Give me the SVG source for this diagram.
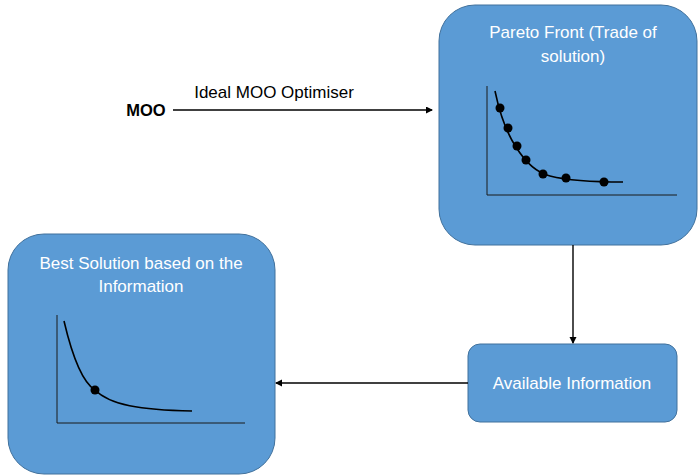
<svg xmlns="http://www.w3.org/2000/svg" width="698" height="476" viewBox="0 0 698 476">
<style>
.box{fill:#5B9BD5;stroke:#41719C;stroke-width:1}
.t{font-family:"Liberation Sans",Arial,sans-serif;font-size:17px;fill:#FFFFFF;text-anchor:middle}
.ax{stroke:#1a1a1a;stroke-width:1;fill:none}
.cv{stroke:#000;stroke-width:1.6;fill:none}
.c{stroke:#000;stroke-width:1.4;fill:none}
</style>
<defs>
<marker id="ah" markerWidth="8" markerHeight="8" refX="6" refY="3.5" orient="auto" markerUnits="userSpaceOnUse">
<path d="M0,0 L7,3.5 L0,7 z" fill="#000"/>
</marker>
</defs>
<rect width="698" height="476" fill="#fff"/>
<g id="moo">
<text x="146" y="116" font-family="Liberation Sans,Arial,sans-serif" font-size="16.5" font-weight="bold" text-anchor="middle" fill="#000">MOO</text>
</g>
<g id="pareto">
<rect class="box" x="439" y="5" width="258" height="240" rx="36"/>
<text class="t" x="573" y="38">Pareto Front (Trade of</text>
<text class="t" x="573" y="62">solution)</text>
<path class="ax" d="M487,86 V195 H677"/>
<path class="cv" d="M495,91 C500,115 508,135 516,147 C524,160 534,172 550,176 C570,181 600,182 623,182"/>
<g fill="#000">
<circle cx="500" cy="108" r="4.5"/>
<circle cx="508" cy="128" r="4.5"/>
<circle cx="517" cy="146" r="4.5"/>
<circle cx="526" cy="160" r="4.5"/>
<circle cx="543" cy="174" r="4.5"/>
<circle cx="566" cy="178" r="4.5"/>
<circle cx="604" cy="182" r="4.5"/>
</g>
</g>
<g id="available">
<rect class="box" x="468" y="344" width="209" height="78" rx="12"/>
<text class="t" x="572" y="389">Available Information</text>
</g>
<g id="best">
<rect class="box" x="8" y="234" width="267" height="240" rx="36"/>
<text class="t" x="141" y="269">Best Solution based on the</text>
<text class="t" x="141" y="292">Information</text>
<path class="ax" d="M57,315 V423 H245"/>
<path class="cv" d="M64,321 C72,355 82,382 95,390 C110,405 140,410 192,411"/>
<circle cx="95" cy="390" r="4.5" fill="#000"/>
</g>
<g id="connectors">
<line class="c" x1="173" y1="110" x2="432" y2="110" marker-end="url(#ah)"/>
<text x="274" y="98" font-family="Liberation Sans,Arial,sans-serif" font-size="17" text-anchor="middle" fill="#000">Ideal MOO Optimiser</text>
<line class="c" x1="573" y1="245" x2="573" y2="343" marker-end="url(#ah)"/>
<line class="c" x1="468" y1="383" x2="276" y2="383" marker-end="url(#ah)"/>
</g>
</svg>
